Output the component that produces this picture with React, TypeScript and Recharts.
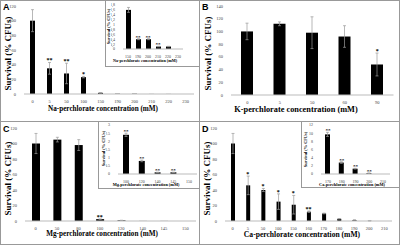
import React from 'react';
import { ComposedChart, Bar, Line, XAxis, YAxis, ErrorBar, LabelList } from 'recharts';

const SERIF = '"Liberation Serif", "Times New Roman", serif';

// Panel A (Na-perchlorate)
const aCats = ['0', '5', '50', '100', '150', '190', '200', '210', '220', '230'];
const aVals = [100, 35, 28, 23, 1.6, 0.4, 0.4, 0.1, 0.1, 0];
const aErrs = [15, 8, 14, 1, 0.1, 0, 0, 0, 0, 0];
const aSig = ['', '**', '**', '*', '', '', '', '', '', ''];
const aInsCats = ['150', '190', '200', '210', '220', '230'];
const aInsVals = [1.6, 0.4, 0.4, 0.1, 0.1, 0];
const aInsErrs = [0.1, 0.02, 0.02, 0.01, 0.01, 0];
const aInsSig = ['', '**', '**', '**', '', ''];
const aInsTicks = [0, 0.2, 0.4, 0.6, 0.8, 1, 1.2, 1.4, 1.6, 1.8];

// Panel B (K-perchlorate)
const bCats = ['0', '5', '50', '60', '90'];
const bVals = [100, 112, 98, 92, 48];
const bErrs = [13, 3, 25, 17, 18];
const bSig = ['', '', '', '', '*'];

// Panel C (Mg-perchlorate)
const cCats = ['0', '50', '80', '100', '120', '140', '145', '150'];
const cVals = [100, 105, 98, 2.4, 0.8, 0.1, 0.1, 0];
const cErrs = [13, 3, 7, 0.1, 0.05, 0, 0, 0];
const cSig = ['', '', '', '**', '', '', '', ''];
const cInsCats = ['100', '120', '140', '145', '150'];
const cInsVals = [2.4, 0.8, 0.1, 0.1, 0];
const cInsErrs = [0.1, 0.05, 0.01, 0.01, 0];
const cInsSig = ['**', '**', '**', '**', ''];
const cInsTicks = [0, 0.5, 1, 1.5, 2, 2.5, 3];

// Panel D (Ca-perchlorate)
const dCats = ['0', '5', '50', '100', '150', '160', '170', '180', '190', '200', '210'];
const dVals = [100, 46, 40, 25, 21, 12, 9.7, 2.8, 1.3, 0.2, 0];
const dErrs = [13, 12, 2, 10, 12, 1, 0.5, 0.2, 0.1, 0.05, 0];
const dSig = ['', '*', '*', '*', '*', '**', '', '', '', '', ''];
const dInsCats = ['170', '180', '190', '200', '210'];
const dInsVals = [9.7, 2.8, 1.3, 0.2, 0];
const dInsErrs = [0.5, 0.2, 0.1, 0.05, 0];
const dInsSig = ['**', '**', '**', '**', ''];
const dInsTicks = [0, 2, 4, 6, 8, 10, 12];

const mainTicks = [0, 20, 40, 60, 80, 100, 120];
const bTicks = [0, 20, 40, 60, 80, 100, 120, 140];

type ChartProps = {
  left: number; top: number; plotW: number; plotH: number; yw: number; xh: number;
  cats: string[]; vals: number[]; errs: number[]; sigs: string[];
  ticks: number[]; barSize: number; tickFs: number; sigFs: number;
  fmt?: (v: number) => string;
};

function Chart(p: ChartProps) {
  const data = p.cats.map((c, i) => ({ c, v: p.vals[i], e: p.errs[i], s: p.sigs[i], t: p.vals[i] + p.errs[i] }));
  const topPad = 8;
  const tick = { fontSize: p.tickFs, fill: '#444', fontFamily: SERIF };
  return (
    <div style={{ position: 'absolute', left: p.left - p.yw, top: p.top - topPad }}>
      <ComposedChart
        width={p.yw + p.plotW + 2}
        height={topPad + p.plotH + p.xh}
        data={data}
        margin={{ top: topPad, right: 2, left: 0, bottom: 0 }}
      >
        <XAxis dataKey="c" interval={0} tickLine={false} axisLine={{ stroke: '#bbb' }} tick={tick} height={p.xh} tickMargin={0} />
        <YAxis
          domain={[p.ticks[0], p.ticks[p.ticks.length - 1]]}
          ticks={p.ticks}
          interval={0}
          width={p.yw}
          axisLine={false}
          tickLine={false}
          tick={tick}
          tickMargin={2}
          tickFormatter={p.fmt}
        />
        <Bar dataKey="v" fill="#000" barSize={p.barSize} isAnimationActive={false}>
          <ErrorBar dataKey="e" width={1.5} stroke="#999" strokeWidth={0.7} />
        </Bar>
        <Line dataKey="t" stroke="none" dot={false} activeDot={false} isAnimationActive={false}>
          <LabelList dataKey="s" position="top" offset={0} fill="#000" fontSize={p.sigFs} fontWeight="bold" fontFamily={SERIF} />
        </Line>
      </ComposedChart>
    </div>
  );
}

function XTitle({ x, y, text, fs }: { x: number; y: number; text: string; fs: number }) {
  return (
    <div style={{ position: 'absolute', left: x - 150, top: y - fs * 0.6, width: 300, textAlign: 'center', fontFamily: SERIF, fontWeight: 'bold', fontSize: fs, lineHeight: 1.2 + 'em', whiteSpace: 'nowrap', color: '#000' }}>
      {text}
    </div>
  );
}

function YTitle({ x, y, fs }: { x: number; y: number; fs: number }) {
  return (
    <div style={{ position: 'absolute', left: x - 60, top: y - fs * 0.6, width: 120, textAlign: 'center', fontFamily: SERIF, fontWeight: 'bold', fontSize: fs, lineHeight: 1.2 + 'em', whiteSpace: 'nowrap', transform: 'rotate(-90deg)', color: '#000' }}>
      Survival (% CFUs)
    </div>
  );
}

function Box({ l, t, w, h }: { l: number; t: number; w: number; h: number }) {
  return <div style={{ position: 'absolute', left: l, top: t, width: w, height: h, border: '1px solid #999', boxSizing: 'border-box', background: '#fff' }} />;
}

function PanelLabel({ x, y, t }: { x: number; y: number; t: string }) {
  return <div style={{ position: 'absolute', left: x, top: y, fontFamily: '"Liberation Sans", Arial, sans-serif', fontWeight: 'bold', fontSize: 9, lineHeight: '10px' }}>{t}</div>;
}

const comma = (v: number) => String(v).replace('.', ',');

export default function App() {
  return (
    <div style={{ position: 'fixed', left: 0, top: 0, width: 400, height: 245, background: '#fff', overflow: 'hidden' }}>
      <Box l={0} t={0} w={200} h={122} />
      <Box l={199} t={0} w={201} h={122} />
      <Box l={0} t={121} w={200} h={124} />
      <Box l={199} t={121} w={201} h={124} />

      {/* Panel A */}
      <Chart left={23.5} top={6} plotW={170} plotH={88} yw={16} xh={14} cats={aCats} vals={aVals} errs={aErrs} sigs={aSig} ticks={mainTicks} barSize={5} tickFs={4.5} sigFs={6} />
      <XTitle x={103} y={109} text="Na-perchlorate concentration (mM)" fs={7.2} />
      <YTitle x={8} y={53} fs={9} />
      <Box l={105} t={0} w={95} h={67} />
      <Chart left={123} top={5} plotW={60} plotH={44} yw={12} xh={12} cats={aInsCats} vals={aInsVals} errs={aInsErrs} sigs={aInsSig} ticks={aInsTicks} barSize={5} tickFs={4} sigFs={5} fmt={comma} />
      <XTitle x={145} y={61} text="Na-perchlorate concentration (mM)" fs={4.2} />
      <YTitle x={109} y={27} fs={4.3} />
      <PanelLabel x={3} y={2} t="A" />

      {/* Panel B */}
      <Chart left={231} top={6} plotW={162.5} plotH={89} yw={16} xh={12} cats={bCats} vals={bVals} errs={bErrs} sigs={bSig} ticks={bTicks} barSize={12} tickFs={4.5} sigFs={6} />
      <XTitle x={296} y={110} text="K-perchlorate concentration (mM)" fs={8.3} />
      <YTitle x={208} y={53} fs={9} />
      <PanelLabel x={202} y={2} t="B" />

      {/* Panel C */}
      <Chart left={24.5} top={128} plotW={171} plotH={93} yw={16} xh={12} cats={cCats} vals={cVals} errs={cErrs} sigs={cSig} ticks={mainTicks} barSize={8} tickFs={4.5} sigFs={6} />
      <XTitle x={102} y={234.5} text="Mg-perchlorate concentration (mM)" fs={7.2} />
      <YTitle x={8} y={178} fs={9} />
      <Box l={98} t={121} w={102} h={68} />
      <Chart left={118} top={125} plotW={79} plotH={49} yw={12} xh={9} cats={cInsCats} vals={cInsVals} errs={cInsErrs} sigs={cInsSig} ticks={cInsTicks} barSize={6} tickFs={4} sigFs={5} />
      <XTitle x={146} y={185} text="Mg-perchlorate concentration (mM)" fs={4.3} />
      <YTitle x={104} y={149} fs={4.3} />
      <PanelLabel x={3} y={124} t="C" />

      {/* Panel D */}
      <Chart left={224.5} top={128} plotW={167} plotH={93} yw={16} xh={12} cats={dCats} vals={dVals} errs={dErrs} sigs={dSig} ticks={mainTicks} barSize={4} tickFs={4.5} sigFs={6} />
      <XTitle x={302} y={235} text="Ca-perchlorate concentration (mM)" fs={7.6} />
      <YTitle x={207} y={178} fs={9} />
      <Box l={301} t={121} w={99} h={67} />
      <Chart left={321} top={125} plotW={69} plotH={49} yw={13} xh={9} cats={dInsCats} vals={dInsVals} errs={dInsErrs} sigs={dInsSig} ticks={dInsTicks} barSize={5} tickFs={4} sigFs={5} />
      <XTitle x={352} y={185} text="Ca-perchlorate concentration (mM)" fs={4.3} />
      <YTitle x={306} y={150} fs={4.3} />
      <PanelLabel x={202} y={124} t="D" />
    </div>
  );
}
